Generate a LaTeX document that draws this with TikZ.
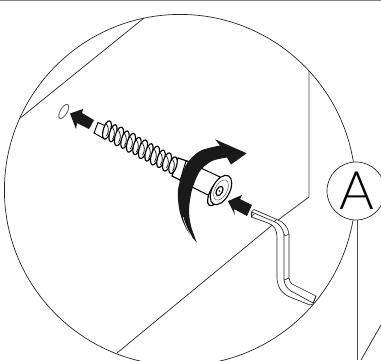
\documentclass[tikz,border=0pt]{standalone}
\usepackage{fontspec}
\setmainfont{Lato Light}
\tikzset{
  thinline/.style={draw=black!85,line width=0.7pt},
  keyline/.style={draw=black!85,line width=0.65pt,line join=round},
  thick screw/.style={draw=black,line width=1.15pt,fill=white},
  solid arrow/.style={fill=black!90!white,draw=none}
}
\begin{document}
\begin{tikzpicture}[x=1pt,y=-1pt]
\useasboundingbox (0,0) rectangle (381,360);
\clip (0,0) rectangle (381,360);
\fill[white] (0,0) rectangle (381,360);
\draw[draw=black!50,line width=1pt] (0,0.4) -- (381,0.4);
% big circle and background lines
\draw[thinline] (180,190) circle (175.6);
\draw[thinline] (144,18) -- (19,119);
\draw[thinline,line width=0.9pt,draw=black!70] (309,71) -- (309,197) -- (282,217);
\draw[thinline] (282,217) -- (117,353);
\draw[thinline,line width=0.9pt,draw=black!70] (357,220) -- (357,360);
\draw[thinline] (361,360) -- (381,325);
% callout
\node[circle,draw=black!85,fill=white,line width=0.7pt,minimum size=58pt,inner sep=0pt] (callout) at (356,191) {};
\node[inner sep=0pt,font=\fontsize{53}{53}\selectfont,text=black] (letter) at (357,191) {A};
% hole
\draw[draw=black!60,line width=0.9pt,fill=white,rotate around={60:(63.7,111.5)}] (63.7,111.5) ellipse (8 and 3.4);
% arrows
\fill[solid arrow] (70,113.5) -- (83,109) -- (82,113) -- (94,120) -- (89,129) -- (77,123) -- (76,129) -- cycle;
\fill[solid arrow] (228,201) -- (242,195) -- (240,199) -- (252,205) -- (247,216) -- (234,209) -- (235,215) -- cycle;
% screw tip
\draw[thick screw,line width=0.9pt] (98,122.5) -- (94,133) -- (103,138) -- (108,127) -- cycle;
% neck
\draw[thick screw] (178,158) -- (190,162) -- (190,184) -- (182,181) -- (172,176) -- cycle;
% threads
\foreach \t/\mj/\mn in {0/9.5/3.7,1/8.8/3.4,2/9.6/3.9,3/9/3.5,4/9.7/3.8,5/8.9/3.5,6/9.6/3.9,7/9/3.4,8/9.7/3.8,9/9/3.6,10/9.4/3.8,11/8.6/3.6}{
  \pgfmathsetmacro{\cx}{107+\t*6}
  \pgfmathsetmacro{\cy}{130+\t*3.2}
  \draw[thick screw,rotate around={74:(\cx,\cy)}] (\cx,\cy) ellipse ({\mj} and {\mn});
  \draw[draw=black,line width=0.7pt] (\cx-0.5,\cy-6) .. controls (\cx+2,\cy-2) and (\cx+2,\cy+2) .. (\cx-0.5,\cy+6);
}
% shank
\draw[thick screw,line width=1pt] (186,161) -- (220,177) -- (212,197) -- (180,181) -- cycle;
% curved arrow
\fill[solid arrow] (246.7,153.3) -- (215,139.3) -- plot[smooth] coordinates {(220,145.5) (200,151) (186,165) (178,190) (180,213) (187,230) (197,243)}
  -- plot[smooth] coordinates {(197,243) (191,226) (189,210) (192,190) (200,171) (212,161) (227,157.5)}
  -- (231,164.5) -- cycle;
\draw[draw=white,line width=0.5pt] (183,217) .. controls (185,224) and (188,231) .. (192,237);
% head
\draw[thick screw,line width=1.2pt,rotate around={62:(216,193)}] (216,193) ellipse (14 and 6);
\draw[thick screw,line width=1.1pt,rotate around={62:(221,190)}] (221,190) ellipse (16 and 8.7);
\draw[draw=black!70,line width=0.45pt,fill=white,rotate around={62:(221,190)}] (221,190) ellipse (11 and 6);
\draw[draw=black,line width=1.1pt,fill=white,rotate around={62:(219.5,191)}] (219.5,191) ellipse (5 and 3);
\fill[black] (219.5,191) circle (0.8);
% hex key
\draw[keyline,fill=white] (251.5,212) -- (254,209.5) -- (277,219.5)
  .. controls (284,222) and (288,227) .. (289,234)
  -- (289,278) .. controls (290,284) and (293,285) .. (296,286)
  -- (316,296) -- (313,304) -- (310,305) -- (290,297)
  .. controls (282,294) and (278,288) .. (277,279)
  -- (277,237) .. controls (277,230) and (274,225) .. (268,223)
  -- (251.5,217) -- cycle;
\draw[keyline] (251.5,212) -- (274,221.5) .. controls (279,223) and (283,229) .. (284,234) -- (285,236) -- (289,234);
\draw[keyline] (284,234) -- (284,280) .. controls (285,286) and (287,288) .. (291,291) -- (313,303);
\draw[keyline] (289,278) -- (284,280);
\draw[keyline] (274,221.5) -- (277,219.5);
\draw[keyline] (313,303) -- (316,296);
\draw[keyline] (251.5,217) -- (254,214);
\end{tikzpicture}
\end{document}
